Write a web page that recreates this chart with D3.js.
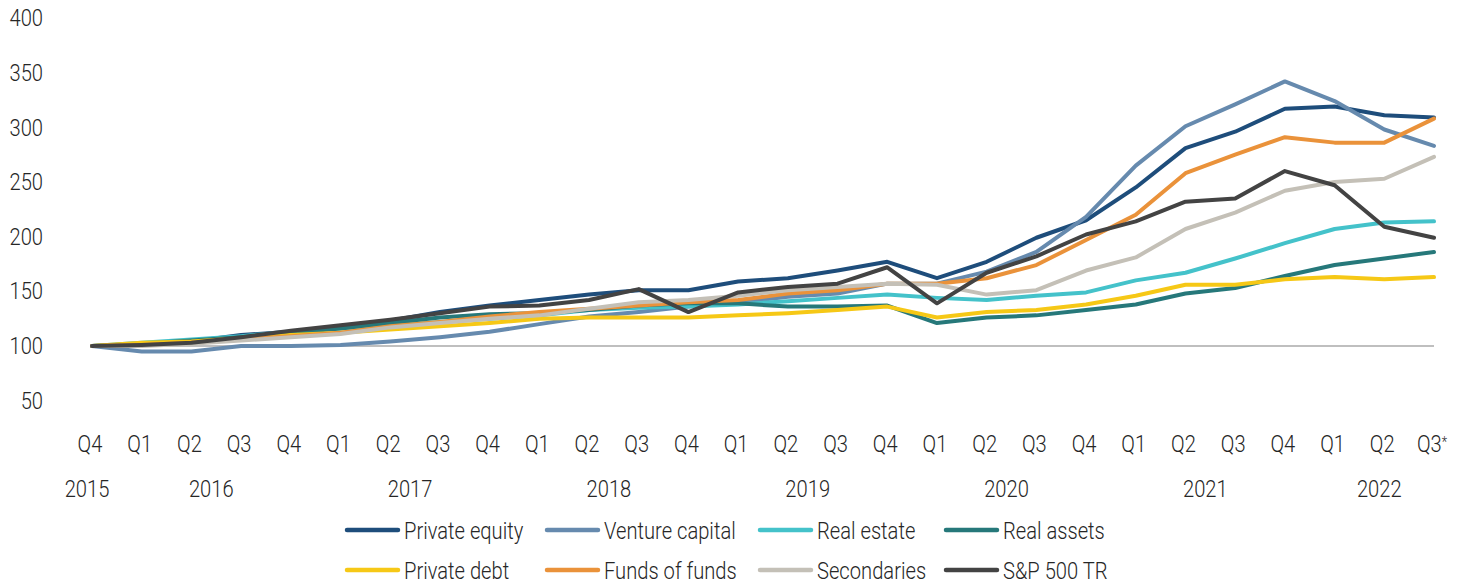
<!DOCTYPE html>
<html>
<head>
<meta charset="utf-8">
<script src="https://cdn.jsdelivr.net/npm/d3@7"></script>
<style>
  body { margin: 0; background: #fff; }
  svg { display: block; }
  text { font-family: Roboto, "Open Sans", sans-serif; font-weight: 300; font-size: 24px; fill: #262626; }
</style>
</head>
<body>
<svg id="chart" width="1458" height="584"></svg>
<script>
// quarter labels along the x axis, with the year each one belongs to
var quarters = ["Q4","Q1","Q2","Q3","Q4","Q1","Q2","Q3","Q4","Q1","Q2","Q3","Q4","Q1","Q2","Q3","Q4","Q1","Q2","Q3","Q4","Q1","Q2","Q3","Q4","Q1","Q2","Q3*"];
var quarterYears = ["2015","2016","2016","2016","2016","2017","2017","2017","2017","2018","2018","2018","2018","2019","2019","2019","2019","2020","2020","2020","2020","2021","2021","2021","2021","2022","2022","2022"];
var yTicks = [50, 100, 150, 200, 250, 300, 350, 400];

var privateEquity  = [100,101,104,110,113,118,123,131,137,142,147,151,151,159,162,169,177,162,177,199,215,245,281,296,317,319,311,309];
var ventureCapital = [100,95,95,100,100,101,104,108,113,120,127,131,136,140,145,148,157,157,168,186,218,265,301,321,342,324,298,283];
var realEstate     = [100,103,106,109,113,116,119,122,125,128,133,135,136,138,141,144,147,144,142,146,149,160,167,180,194,207,213,214];
var realAssets     = [100,102,105,108,112,116,121,126,129,130,133,137,139,139,136,136,137,121,126,128,133,138,148,153,164,174,180,186];
var privateDebt    = [100,103,104,107,110,112,115,118,121,125,126,126,126,128,130,133,136,126,131,133,138,146,156,156,161,163,161,163];
var fundsOfFunds   = [100,101,103,106,109,112,118,122,127,131,134,137,140,142,148,151,157,157,162,174,197,220,258,275,291,286,286,308];
var secondaries    = [100,100,102,105,108,111,117,121,125,128,134,140,142,146,151,154,157,156,147,151,169,181,207,222,242,250,253,273];
var sp500          = [100,101,103,108,114,119,124,130,136,137,142,152,131,149,154,157,172,139,167,182,202,214,232,235,260,247,209,199];

var series = [
  { name: "Private equity",  values: privateEquity,  color: "#1e4d7b" },
  { name: "Venture capital", values: ventureCapital, color: "#668aae" },
  { name: "Real estate",     values: realEstate,     color: "#44c2ca" },
  { name: "Real assets",     values: realAssets,     color: "#26787a" },
  { name: "Private debt",    values: privateDebt,    color: "#f6c816" },
  { name: "Funds of funds",  values: fundsOfFunds,   color: "#ea923a" },
  { name: "Secondaries",     values: secondaries,    color: "#c4c0b7" },
  { name: "S&P 500 TR",      values: sp500,          color: "#434343" }
];

// the original font is a narrow one, squeeze the glyphs sideways
var narrow = "scale(0.84,1)";

var svg = d3.select("#chart");

var x = d3.scalePoint().domain(d3.range(quarters.length)).range([92, 1434]);
var y = d3.scaleLinear().domain([0, 400]).range([455.3, 18]);

// y axis labels only
svg.append("g")
    .attr("transform", "translate(43,0)")
    .call(d3.axisLeft(y).tickValues(yTicks).tickSize(0).tickPadding(0))
    .call(g => g.select(".domain").remove())
    .selectAll("text")
    .attr("transform", narrow);

// baseline at 100
svg.append("line")
    .attr("x1", x(0)).attr("x2", x(quarters.length - 1))
    .attr("y1", y(100)).attr("y2", y(100))
    .attr("stroke", "#bfbfbf")
    .attr("stroke-width", 2);

// quarter labels, a trailing * is set as a small superscript
svg.append("g")
    .attr("transform", "translate(0,435)")
    .call(d3.axisBottom(x).tickFormat(i => quarters[i]).tickSize(0).tickPadding(0))
    .call(g => g.select(".domain").remove())
    .selectAll("text")
    .attr("x", -3)
    .attr("transform", narrow)
    .each(function (i) {
        var label = quarters[i];
        if (label.slice(-1) == "*") {
            var t = d3.select(this).text(label.slice(0, -1));
            t.append("tspan")
                .attr("dy", "-0.35em")
                .style("font-size", "15px")
                .text("*");
        }
    });

// year labels centred under their quarters
var yearGroups = d3.groups(d3.range(quarters.length), i => quarterYears[i]);
svg.append("g").selectAll("g")
    .data(yearGroups)
    .enter().append("g")
    .attr("transform", d => "translate(" + (d3.mean(d[1], i => x(i)) - 5) + ",497)")
    .append("text")
    .attr("text-anchor", "middle")
    .attr("transform", narrow)
    .text(d => d[0]);

var line = d3.line()
    .x((d, i) => x(i))
    .y(d => y(d));

svg.append("g").selectAll("path")
    .data(series)
    .enter().append("path")
    .attr("d", d => line(d.values))
    .attr("fill", "none")
    .attr("stroke", d => d.color)
    .attr("stroke-width", 4)
    .attr("stroke-linejoin", "round")
    .attr("stroke-linecap", "round");

// legend, 4 columns x 2 rows
var legendCols = [346, 546, 759, 945];
var legendRows = [530, 570];
var legend = svg.append("g").selectAll("g")
    .data(series)
    .enter().append("g")
    .attr("transform", (d, i) => "translate(" + legendCols[i % 4] + "," + legendRows[Math.floor(i / 4)] + ")");

legend.append("line")
    .attr("x1", 1).attr("x2", 52)
    .attr("stroke", d => d.color)
    .attr("stroke-width", 4.5)
    .attr("stroke-linecap", "round");

legend.append("g")
    .attr("transform", "translate(58,0)")
    .append("text")
    .attr("dy", "0.36em")
    .attr("transform", narrow)
    .text(d => d.name);
</script>
</body>
</html>
